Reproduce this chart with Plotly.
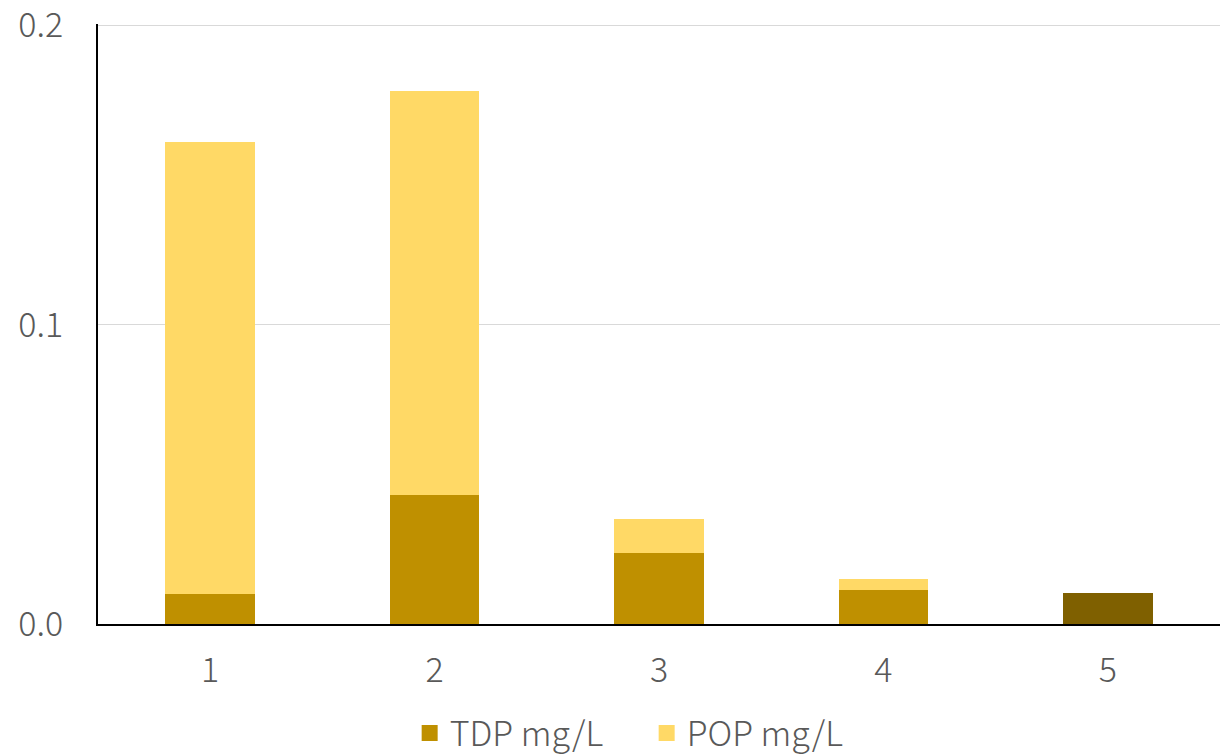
import plotly.graph_objects as go

categories = ["1", "2", "3", "4", "5"]
tdp = [0.0100, 0.0431, 0.0237, 0.0114, 0.0104]
pop = [0.151, 0.135, 0.0114, 0.0036, 0.0]
tdp_colors = ["#BF9000", "#BF9000", "#BF9000", "#BF9000", "#7F6000"]
series_names = ["TDP mg/L", "POP mg/L"]
series_colors = ["#BF9000", "#FFD966"]
y_ticks = [0.0, 0.1, 0.2]
y_tick_labels = ["0.0", "0.1", "0.2"]

FONT = "Noto Sans CJK JP"
TXT = "#595959"

fig = go.Figure()
fig.add_trace(go.Bar(x=categories, y=tdp, name=series_names[0], showlegend=False,
                     marker=dict(color=tdp_colors, line=dict(width=0))))
fig.add_trace(go.Bar(x=categories, y=pop, name=series_names[1], showlegend=False,
                     marker=dict(color=series_colors[1], line=dict(width=0))))
for nm, col in zip(series_names, series_colors):
    fig.add_trace(go.Scatter(x=[None], y=[None], mode="markers", name=nm,
                             marker=dict(symbol="square", size=20, color=col)))

fig.update_layout(
    barmode="stack",
    bargap=0.6,
    width=1226, height=755,
    margin=dict(l=98, r=6, t=24, b=131, autoexpand=False),
    paper_bgcolor="white", plot_bgcolor="white",
    font=dict(family=FONT, color=TXT, size=34, weight=300),
    showlegend=True,
    legend=dict(orientation="h", xref="paper", yref="paper",
                x=0.489, xanchor="center", y=-0.134, yanchor="top",
                font=dict(size=34, color=TXT, family=FONT, weight=300),
                itemwidth=30, entrywidth=192, traceorder="normal"),
)
fig.update_xaxes(
    type="category", range=[-0.5, 4.5], automargin=False,
    showline=True, linecolor="black", linewidth=2,
    showgrid=False, ticks="", ticklabelstandoff=15,
    tickfont=dict(size=34, color=TXT, family=FONT, weight=300),
)
fig.update_yaxes(
    range=[0, 0.2004], tickvals=y_ticks, ticktext=y_tick_labels, automargin=False,
    showline=True, linecolor="black", linewidth=2,
    showgrid=True, gridcolor="#D9D9D9", gridwidth=1.3,
    zeroline=False, ticks="", ticklabelstandoff=26,
    ticklabeloverflow="allow",
    tickfont=dict(size=34, color=TXT, family=FONT, weight=300),
)
fig.write_html("out.html")
